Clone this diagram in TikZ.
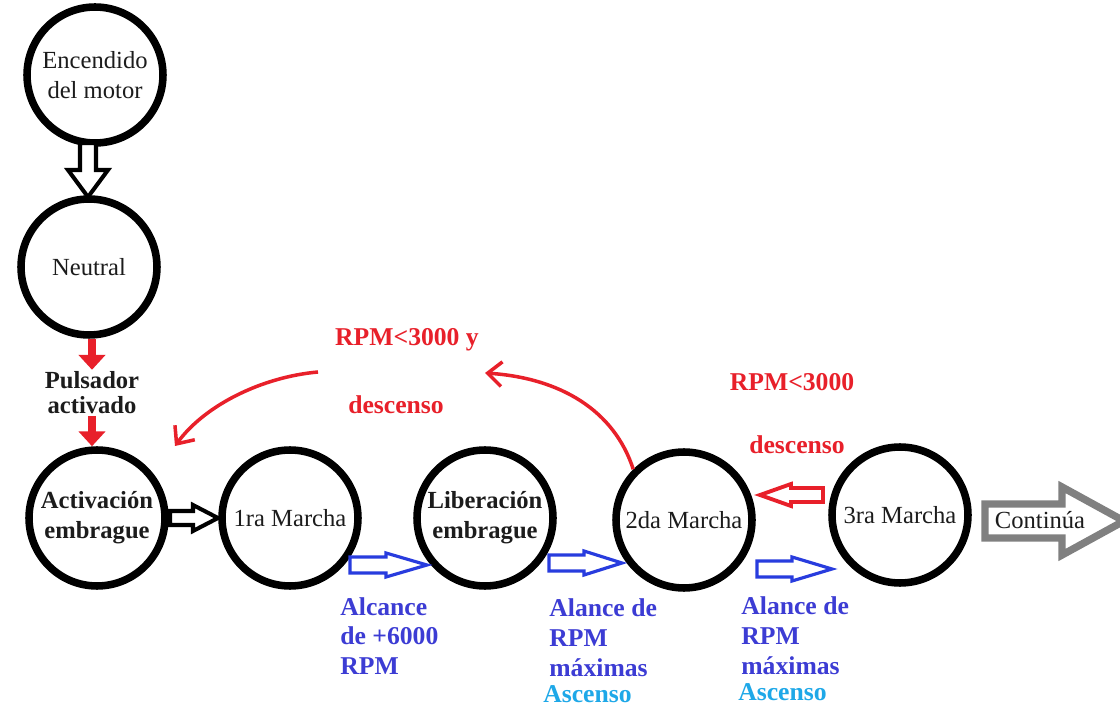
\documentclass[tikz,border=0pt]{standalone}
\usepackage{fontspec}
\setmainfont{Liberation Serif}
\usetikzlibrary{arrows.meta,calc}

\definecolor{rojo}{RGB}{232,32,42}
\definecolor{azul}{RGB}{60,60,212}
\definecolor{azulflecha}{RGB}{40,60,222}
\definecolor{celeste}{RGB}{30,168,232}
\definecolor{gris}{RGB}{128,128,128}
\definecolor{tinta}{RGB}{28,28,28}

\tikzset{
  % hollow block arrow: total length, shaft half width, head half width, head length
  pics/bloque/.style n args={4}{code={
    \path[pic actions] (0,-#2) -- ({#1-#4},-#2) -- ({#1-#4},-#3) -- (#1,0)
      -- ({#1-#4},#3) -- ({#1-#4},#2) -- (0,#2) -- cycle;}},
  estado/.style={circle, draw=black, line width=4.3pt, minimum size=2.72cm,
    inner sep=0pt, align=center, text=tinta,
    font=\fontsize{14}{17.5}\selectfont},
  estadob/.style={estado, font=\fontsize{14}{17}\selectfont\bfseries},
  negra/.style={draw=black, fill=white, line width=2.3pt, miter limit=10},
  azulb/.style={draw=azulflecha, fill=white, line width=1.8pt, miter limit=10},
  rojab/.style={draw=rojo, fill=white, line width=2.2pt, miter limit=10},
  grisb/.style={draw=gris, fill=white, line width=4.2pt, miter limit=10},
  curva/.style={draw=rojo, line width=2pt, -{Straight Barb[length=8pt,width=14pt]}},
  pulso/.style={draw=rojo, line width=5pt, -{Triangle[length=8.5pt,width=15pt]}},
  etiq/.style={inner sep=0pt, font=\fontsize{14.6}{17}\selectfont\bfseries},
  etiqroja/.style={etiq, text=rojo},
  etiqazul/.style={etiq, text=azul, align=left, anchor=west},
  etiqceleste/.style={etiq, text=celeste, anchor=west},
}

\begin{document}
\begin{tikzpicture}[x=0.02cm, y=-0.02cm]
\fill[white] (0,0) rectangle (1120,709);
\useasboundingbox (0,0) rectangle (1120,709);

% states
\node[estado] (enc) at (95,75) {Encendido\\del motor};
\node[estado] (neu) at (89,267) {Neutral};
\node[estadob] (act) at (97,518) {Activación\\embrague};
\node[estado] (m1) at (290,518) {1ra Marcha};
\node[estadob] (lib) at (485,518) {Liberación\\embrague};
\node[estado] (m2) at (684,520) {2da Marcha};
\node[estado] (m3) at (900,515) {3ra Marcha};

% start-up sequence
\pic[negra, rotate=-90] at (88,143) {bloque={54}{8}{20}{27}};
\node[inner sep=1pt, align=center, text=tinta,
      font=\fontsize{14}{14.2}\selectfont\bfseries] (puls) at (92,393) {Pulsador\\activado};
\draw[pulso] (puls.north |- neu.south) -- (puls.north);
\draw[pulso] (puls.south) -- (puls.south |- act.north);
\pic[negra] at (170,518) {bloque={48}{7}{13}{25}};

% upshift arrows and conditions
\pic[azulb] at (350,565) {bloque={77}{8}{12}{41}};
\pic[azulb] at (549,563) {bloque={73}{8}{12}{38}};
\pic[azulb] at (757,569) {bloque={75}{8}{12}{40}};
\node[etiqazul] (alc1) at (340,636) {Alcance\\de +6000\\RPM};
\node[etiqazul] (alc2) at (549,638) {Alance de\\RPM\\máximas};
\node[etiqceleste] (asc2) at (543,694) {Ascenso};
\node[etiqazul] (alc3) at (741,636) {Alance de\\RPM\\máximas};
\node[etiqceleste] (asc3) at (738,692) {Ascenso};

% downshift arrows and conditions
\coordinate (c1s) at (318,372);
\coordinate (c1e) at (175,446);
\draw[curva] (c1s) .. controls (262,377) and (205,405) .. (c1e);
\coordinate (c2e) at (485,373);
\draw[curva] (m2.135) .. controls (614,410) and (560,378) .. (c2e);
\node[etiqroja] (cond1) at (407,340) {RPM<3000 y};
\node[etiqroja] (desc1) at (396,405) {descenso};
\pic[rojab, rotate=180] at (823,495) {bloque={63}{7}{11}{31}};
\node[etiqroja] (cond2) at (792,382) {RPM<3000};
\node[etiqroja] (desc2) at (797,445) {descenso};

% continuation
\pic[grisb] at (985,521) {bloque={139}{17}{34}{62}};
\node[text=tinta, font=\fontsize{14}{17}\selectfont] (sigue) at (1040,520) {Continúa};
\end{tikzpicture}
\end{document}
